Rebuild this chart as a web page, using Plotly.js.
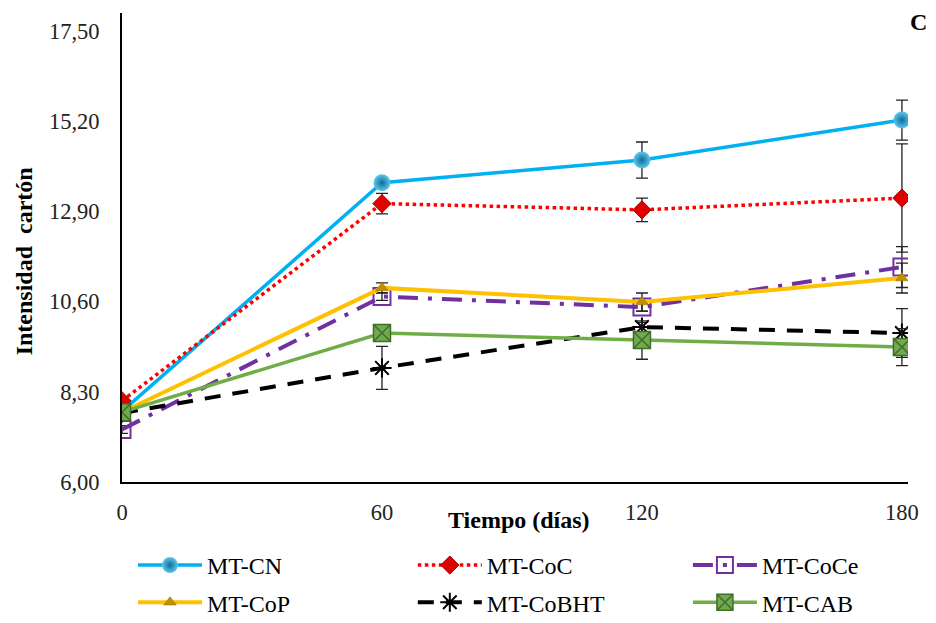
<!DOCTYPE html>
<html>
<head>
<meta charset="utf-8">
<script src="https://cdn.plot.ly/plotly-3.0.1.min.js"></script>
<style>html,body{margin:0;padding:0;background:#fff;}#chart{width:936px;height:623px;}</style>
</head>
<body>
<div id="chart"></div>
<script>
const days = [0, 60, 120, 180];
const yTicks = [6.0, 8.3, 10.6, 12.9, 15.2, 17.5];
const xTicks = [0, 60, 120, 180];

const names = ["MT-CN", "MT-CoC", "MT-CoCe", "MT-CoP", "MT-CoBHT", "MT-CAB"];
const cnVals   = [7.80, 13.63, 14.21, 15.23];
const cnErr    = [0.10, 0.12, 0.46, 0.51];
const cocVals  = [8.07, 13.10, 12.94, 13.24];
const cocErr   = [0.10, 0.26, 0.30, 1.38];
const coceVals = [7.34, 10.73, 10.46, 11.48];
const coceErr  = [0.10, 0.10, 0.10, 0.52];
const copVals  = [7.78, 10.95, 10.59, 11.20];
const copErr   = [0.10, 0.13, 0.23, 0.38];
const bhtVals  = [7.76, 8.91, 9.95, 9.80];
const bhtErr   = [0.10, 0.55, 0.12, 0.62];
const cabVals  = [7.78, 9.80, 9.62, 9.44];
const cabErr   = [0.10, 0.10, 0.49, 0.47];

const errStyle = (arr) => ({type: 'data', array: arr, visible: true, color: '#222', thickness: 1.3, width: 6});

const traces = [
  {name: names[0], x: days, y: cnVals, error_y: errStyle(cnErr), mode: 'lines+markers', legend: 'legend', legendgroup: 'g1',
   line: {color: '#00b0f0', width: 3.5},
   marker: {symbol: 'circle', size: 17, color: '#5fc8ec', gradient: {type: 'radial', color: '#0d6d96'}, line: {width: 0}}},
  {name: names[1], x: days, y: cocVals, error_y: errStyle(cocErr), mode: 'lines+markers', legend: 'legend2', legendgroup: 'g2',
   line: {color: '#ff0000', width: 3.5, dash: 'dot'},
   marker: {symbol: 'diamond', size: 14, color: '#e00000', line: {color: '#a00000', width: 1}}},
  {name: names[2], x: days, y: coceVals, error_y: errStyle(coceErr), mode: 'lines+markers', legend: 'legend3', legendgroup: 'g3',
   line: {color: '#7030a0', width: 4, dash: '20px,10px,4px,10px'},
   marker: {symbol: 'square-open', size: 17, color: '#7030a0', line: {width: 2}}},
  {name: names[3], x: days, y: copVals, error_y: errStyle(copErr), mode: 'lines+markers', legend: 'legend', legendgroup: 'g4',
   line: {color: '#ffc000', width: 4},
   marker: {symbol: 'triangle-up', size: 11, color: '#c09000', line: {color: '#8a6a00', width: 0.5}}},
  {name: names[4], x: days, y: bhtVals, error_y: errStyle(bhtErr), mode: 'lines+markers', legend: 'legend2', legendgroup: 'g5',
   line: {color: '#000000', width: 4, dash: '16px,12px'},
   marker: {symbol: 'asterisk-open', size: 16, color: '#000000', line: {color: '#000000', width: 2}}},
  {name: names[5], x: days, y: cabVals, error_y: errStyle(cabErr), mode: 'lines+markers', legend: 'legend3', legendgroup: 'g6',
   line: {color: '#70ad47', width: 3.5},
   marker: {symbol: 'square-x', size: 17, color: '#72a850', line: {color: '#3f6e28', width: 1.5}}}
];

const fam = '"Liberation Serif", "Times New Roman", serif';

const legendBase = {
  orientation: 'v', xanchor: 'left', yanchor: 'top', y: -0.130,
  font: {family: fam, size: 24, color: '#000'},
  bgcolor: 'rgba(0,0,0,0)', itemwidth: 64, tracegroupgap: 3, traceorder: 'grouped'
};

const layout = {
  width: 936, height: 623,
  margin: {l: 122, r: 28, t: 13, b: 141, autoexpand: false},
  paper_bgcolor: '#fff', plot_bgcolor: '#fff',
  font: {family: fam, color: '#000'},
  separators: ',.',
  showlegend: true,
  legend: Object.assign({}, legendBase, {x: 0.014}),
  legend2: Object.assign({}, legendBase, {x: 0.370}),
  legend3: Object.assign({}, legendBase, {x: 0.720}),
  xaxis: {
    range: [0, 181.4], tickvals: xTicks, ticktext: xTicks.map(String),
    showgrid: false, zeroline: false, showline: true, linecolor: '#000', linewidth: 2,
    ticks: '', ticklabelstandoff: 9, tickfont: {family: fam, size: 22.5, color: '#222'}
  },
  yaxis: {
    range: [6, 17.96], tickvals: yTicks, tickformat: '.2f',
    showgrid: false, zeroline: false, showline: true, linecolor: '#000', linewidth: 2,
    ticks: '', ticklabelstandoff: 16, tickfont: {family: fam, size: 22.5, color: '#222'}
  },
  annotations: [
    {text: '<b>Tiempo (días)</b>', xref: 'paper', yref: 'paper', x: 0.505, y: -0.08, xanchor: 'center', yanchor: 'middle',
     showarrow: false, font: {family: fam, size: 24, color: '#000'}},
    {text: '<b>Intensidad  cartón</b>', xref: 'paper', yref: 'paper', x: -0.125, y: 0.47, xanchor: 'center', yanchor: 'middle',
     textangle: -90, showarrow: false, font: {family: fam, size: 24, color: '#000'}},
    {text: '<b>C</b>', xref: 'paper', yref: 'paper', x: 1.013, y: 0.98, xanchor: 'center', yanchor: 'middle',
     showarrow: false, font: {family: fam, size: 24, color: '#000'}}
  ]
};

Plotly.newPlot('chart', traces, layout, {displayModeBar: false, staticPlot: true});
</script>
</body>
</html>
